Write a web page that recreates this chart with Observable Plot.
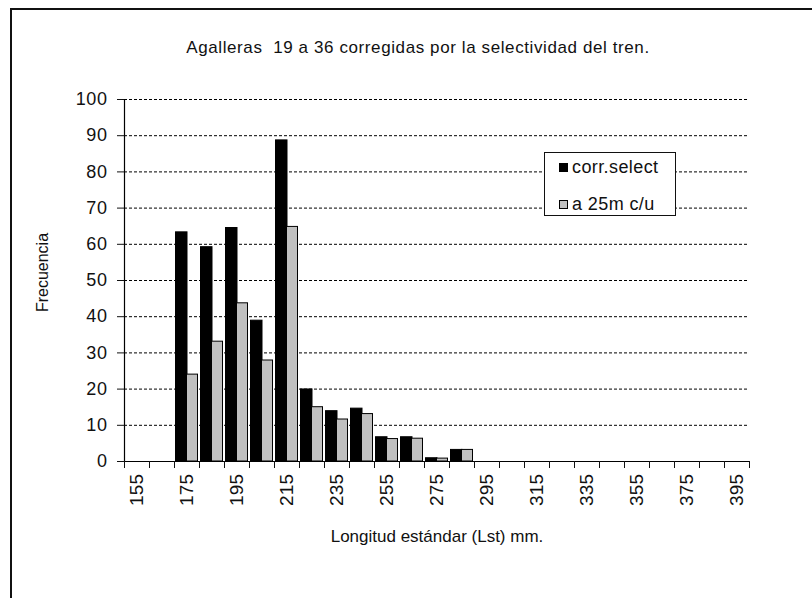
<!DOCTYPE html>
<html>
<head>
<meta charset="utf-8">
<script src="https://cdn.jsdelivr.net/npm/d3@7"></script>
<script src="https://cdn.jsdelivr.net/npm/@observablehq/plot@0.6"></script>
<style>
  html, body { margin: 0; padding: 0; background: #fff; }
  body { width: 812px; height: 598px; position: relative; overflow: hidden; font-family: "Liberation Sans", Arial, sans-serif; }
  #frame { position: absolute; left: 10px; top: 8px; width: 820px; height: 620px; border-top: 2px solid #111; border-left: 2px solid #111; box-sizing: border-box; }
  #title { position: absolute; left: 0; width: 836px; top: 38px; text-align: center; font-size: 17px; letter-spacing: 0.6px; color: #111; white-space: pre; }
  #legend { position: absolute; left: 544px; top: 152px; width: 132px; height: 64px; border: 1px solid #111; box-sizing: border-box; background: #fff; font-size: 18px; letter-spacing: 0.4px; color: #111; }
  .item { position: absolute; left: 14px; display: flex; align-items: center; line-height: 18px; }
  .sw { width: 7px; height: 7px; border: 1px solid #000; margin-right: 4px; }
  #chart { position: absolute; left: 0; top: 0; }
  #chart g[aria-label="y-axis tick label"] { font-size: 18px; letter-spacing: 0.6px; }
  #chart g[aria-label="x-axis tick label"] { font-size: 19px; letter-spacing: 0.3px; }
</style>
</head>
<body>
<div id="chart"></div>
<div id="frame"></div>
<div id="title">Agalleras  19 a 36 corregidas por la selectividad del tren.</div>
<div id="legend"></div>
<script>
const lengths = [175, 185, 195, 205, 215, 225, 235, 245, 255, 265, 275, 285];
const corrSelect = [63.3, 59.2, 64.5, 38.9, 88.7, 19.9, 13.9, 14.6, 6.7, 6.7, 0.9, 3.2];
const a25m = [24.0, 33.1, 43.7, 27.9, 64.8, 15.0, 11.6, 13.1, 6.2, 6.3, 0.8, 3.2];
const seriesNames = ["corr.select", "a 25m c/u"];
const seriesColors = ["#000000", "#c0c0c0"];
const xTickLabels = [155, 175, 195, 215, 235, 255, 275, 295, 315, 335, 355, 375, 395];
const xBoundaries = d3.range(150, 401, 10);
const yTicks = [0, 10, 20, 30, 40, 50, 60, 70, 80, 90, 100];
const classWidth = 10;

const rows = lengths.map((len, i) => ({len, corr: corrSelect[i], a25: a25m[i]}));

const chart = Plot.plot({
  width: 812,
  height: 598,
  marginLeft: 124,
  marginRight: 63,
  marginTop: 99,
  marginBottom: 137,
  style: {fontFamily: '"Liberation Sans", Arial, sans-serif', fontSize: "16px", color: "#111", background: "transparent"},
  x: {type: "linear", domain: [150, 400]},
  y: {domain: [0, 100]},
  marks: [
    Plot.gridY(yTicks.filter(d => d > 0), {stroke: "#000", strokeOpacity: 1, strokeDasharray: "3,2", strokeWidth: 1}),
    Plot.rectY(rows, {x1: d => d.len - classWidth / 2, x2: d => d.len + classWidth / 2, y: "corr", fill: seriesColors[0], stroke: "#000", strokeWidth: 1, insetLeft: 1.5, insetRight: 12}),
    Plot.rectY(rows, {x1: d => d.len - classWidth / 2, x2: d => d.len + classWidth / 2, y: "a25", fill: seriesColors[1], stroke: "#000", strokeWidth: 1, insetLeft: 12.5, insetRight: 1.5}),
    Plot.ruleY([0], {stroke: "#000", strokeWidth: 1.2}),
    Plot.ruleX([150], {stroke: "#000", strokeWidth: 1.2}),
    Plot.axisY({ticks: yTicks, tickSize: 7, tickPadding: 10, label: null}),
    Plot.axisX({ticks: xBoundaries, tickSize: 7, tickFormat: () => "", label: null}),
    Plot.axisX({ticks: xTickLabels, tickSize: 0, tickPadding: 12, tickRotate: -90, tickFormat: d => String(d), label: null}),
    Plot.text(["Longitud estándar (Lst) mm."], {frameAnchor: "bottom", dy: 80, fontSize: 17}),
    Plot.text(["Frecuencia"], {frameAnchor: "left", dx: -82, rotate: -90, textAnchor: "middle", dy: -8, fontSize: 16})
  ]
});
document.getElementById("chart").appendChild(chart);

const legend = document.getElementById("legend");
seriesNames.forEach((name, i) => {
  const item = document.createElement("div");
  item.className = "item";
  item.style.top = (i === 0 ? 5 : 42) + "px";
  const sw = document.createElement("div");
  sw.className = "sw";
  sw.style.background = seriesColors[i];
  const t = document.createElement("span");
  t.textContent = name;
  item.appendChild(sw);
  item.appendChild(t);
  legend.appendChild(item);
});
</script>
</body>
</html>
